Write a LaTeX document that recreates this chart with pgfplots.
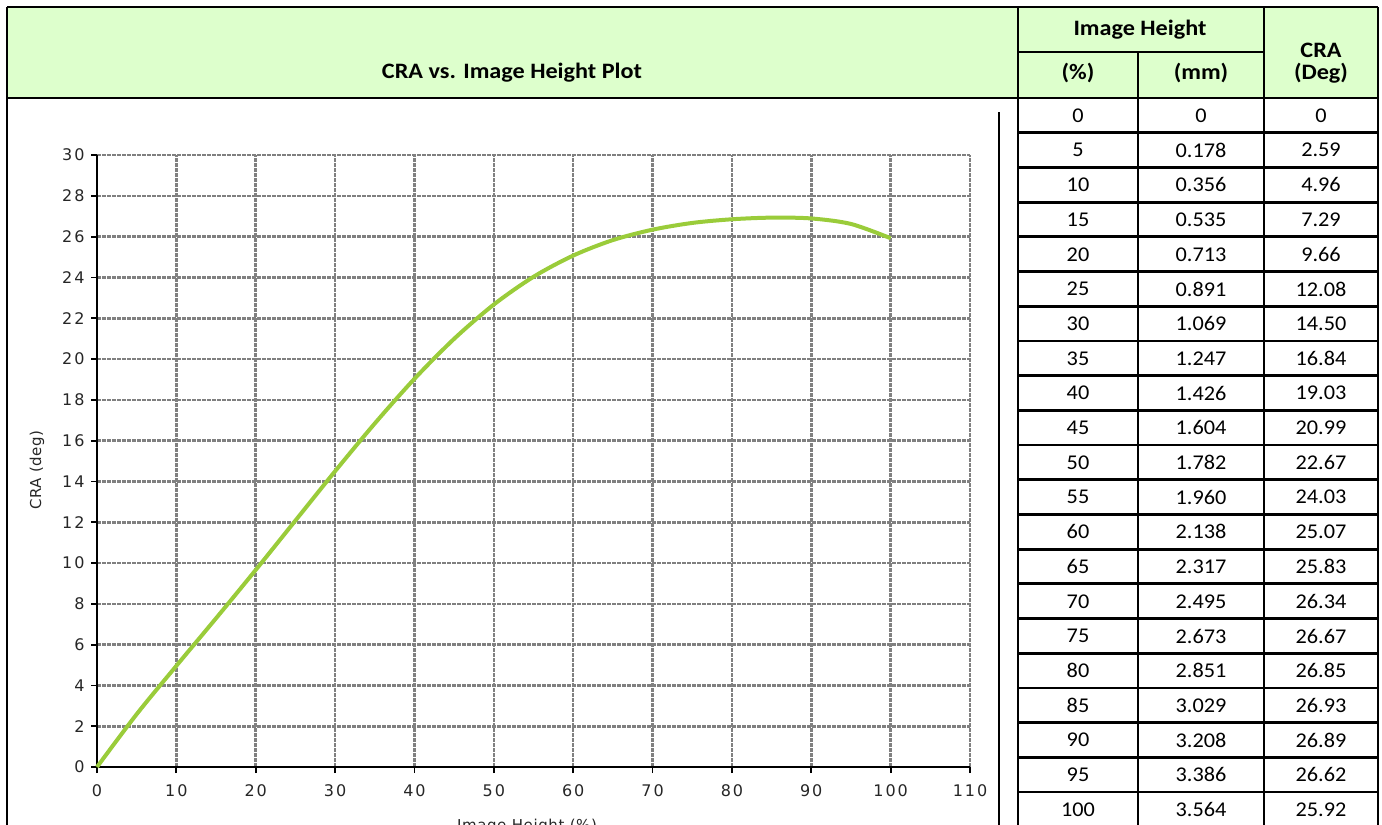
\documentclass[border=0pt]{standalone}
\usepackage{pgfplots}
\usepackage{pgfplotstable}
\pgfplotsset{compat=1.18}
\usepackage{fontspec}
\setmainfont{Carlito}
\newfontfamily\hdrfont[FakeStretch=1.1]{Carlito}
\newfontfamily\cellfont[FakeStretch=1.06]{Carlito}
\newfontfamily\chartfont[LetterSpace=12]{DejaVu Sans}
\newfontfamily\labelfont[LetterSpace=4]{DejaVu Sans}
\definecolor{hdrgreen}{RGB}{221,255,204}
\definecolor{curvegreen}{RGB}{154,204,58}
\definecolor{gridgray}{RGB}{128,128,128}

% CRA vs image height: percent, mm, degrees
\pgfplotstableread{
pct  mm     cra
0    0      0
5    0.178  2.59
10   0.356  4.96
15   0.535  7.29
20   0.713  9.66
25   0.891  12.08
30   1.069  14.50
35   1.247  16.84
40   1.426  19.03
45   1.604  20.99
50   1.782  22.67
55   1.960  24.03
60   2.138  25.07
65   2.317  25.83
70   2.495  26.34
75   2.673  26.67
80   2.851  26.85
85   3.029  26.93
90   3.208  26.89
95   3.386  26.62
100  3.564  25.92
}\cradata

\begin{document}
\begin{tikzpicture}
\path[use as bounding box] (0,0) rectangle (1382bp,-825bp);

% header band
\fill[hdrgreen] (7bp,-7bp) rectangle (1378bp,-98bp);

\begin{axis}[
  at={(97bp,-767bp)}, anchor=south west,
  scale only axis, width=873bp, height=612bp,
  xmin=0, xmax=110, ymin=0, ymax=30,
  xtick={0,10,...,110}, ytick={0,2,...,30},
  axis lines=left,
  axis line style={-, line width=2.8bp, black},
  tick align=outside,
  major tick length=6bp,
  tick style={black, line width=1.8bp},
  grid=major,
  major grid style={gridgray, line width=2.6bp, dash pattern=on 4bp off 1bp},
  /pgf/number format/assume math mode=true,
  tick label style={font=\chartfont\fontsize{16bp}{18bp}\selectfont, text=black!85},
  xticklabel style={yshift=-8bp},
  yticklabel style={xshift=-3bp},
  clip=false,
]
\addplot[curvegreen, line width=4bp, smooth, tension=0.5] table[x=pct, y=cra] {\cradata};
\end{axis}

% axis titles
\node[font=\labelfont\fontsize{15bp}{17bp}\selectfont, text=black!85, rotate=90] at (37bp,-470bp) {CRA (deg)};
\node[font=\labelfont\fontsize{15bp}{17bp}\selectfont, text=black!85, anchor=north] at (527bp,-816bp) {Image Height (\%)};

% chart frame line
\draw[line width=2.8bp] (999bp,-112bp) -- (999bp,-830bp);

% table rules
\begin{scope}[line width=2.8bp]
\draw (7bp,-7bp) -- (1378bp,-7bp);
\draw (7bp,-98bp) -- (1378bp,-98bp);
\draw (7bp,-7bp) -- (7bp,-830bp);
\draw (1378bp,-7bp) -- (1378bp,-830bp);
\draw (1018bp,-7bp) -- (1018bp,-830bp);
\draw (1264bp,-7bp) -- (1264bp,-830bp);
\draw (1138bp,-52bp) -- (1138bp,-830bp);
\draw (1018bp,-52bp) -- (1264bp,-52bp);
\foreach \k in {1,...,20} {
  \draw (1018bp,-98bp-\k*34.7bp) -- (1378bp,-98bp-\k*34.7bp);
}
\end{scope}

% header text
\begin{scope}[font=\hdrfont\bfseries\fontsize{22bp}{24bp}\selectfont]
\node at (512bp,-73bp) {CRA vs. Image Height Plot};
\node at (1140bp,-30bp) {Image Height};
\node at (1078bp,-73bp) {(\%)};
\node at (1201bp,-73bp) {(mm)};
\node at (1321bp,-50bp) {CRA};
\node at (1321bp,-73bp) {(Deg)};
\end{scope}

% table body
\foreach \i in {0,...,20} {
  \pgfplotstablegetelem{\i}{pct}\of\cradata \let\vpct\pgfplotsretval
  \pgfplotstablegetelem{\i}{mm}\of\cradata \let\vmm\pgfplotsretval
  \pgfplotstablegetelem{\i}{cra}\of\cradata \let\vcra\pgfplotsretval
  \begin{scope}[font=\cellfont\fontsize{21bp}{24bp}\selectfont]
  \node at (1078bp,-115.5bp-\i*34.7bp) {\vpct};
  \node at (1201bp,-115.5bp-\i*34.7bp) {\vmm};
  \node at (1321bp,-115.5bp-\i*34.7bp) {\vcra};
  \end{scope}
}
\end{tikzpicture}
\end{document}
